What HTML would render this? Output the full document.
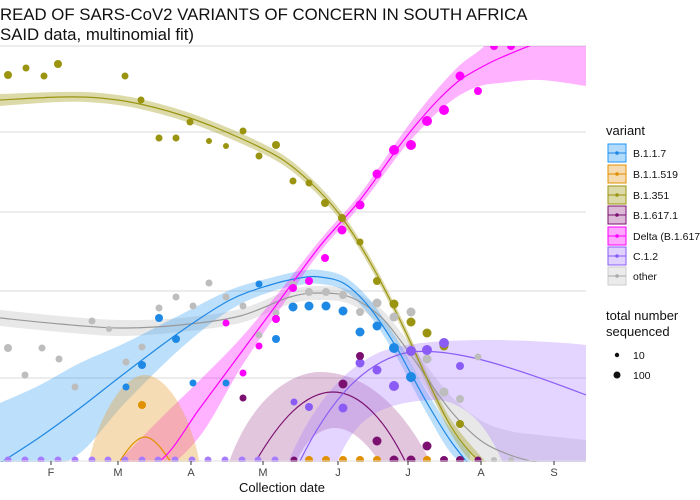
<!DOCTYPE html>
<html><head><meta charset="utf-8"><style>
html,body{margin:0;padding:0;background:#fff;width:700px;height:500px;overflow:hidden;}
svg{display:block;font-family:"Liberation Sans",sans-serif;}
</style></head><body>
<svg id="s" width="700" height="500" viewBox="0 0 700 500">
<rect width="700" height="500" fill="#fff"/>
<text x="0" y="20" font-size="16.8" fill="#111">READ OF SARS-CoV2 VARIANTS OF CONCERN IN SOUTH AFRICA</text>
<text x="0" y="40" font-size="16.8" fill="#111">SAID data, multinomial fit)</text>
<defs><clipPath id="c"><rect x="0" y="46" width="586" height="416"/></clipPath></defs>
<g stroke="#e0e0e0" stroke-width="1.2">
<line x1="0" y1="46" x2="586" y2="46"/><line x1="0" y1="132" x2="586" y2="132"/>
<line x1="0" y1="212" x2="586" y2="212"/><line x1="0" y1="291" x2="586" y2="291"/>
<line x1="0" y1="378" x2="586" y2="378"/>
</g>
<g clip-path="url(#c)">
<g id="bands"></g>
<path d="M88,465 C100,410 125,375 145,375 C165,375 190,410 200,465Z" fill="#e8a33a" fill-opacity="0.38"/>
<path d="M228,465 C250,400 290,372 320,372 C360,372 400,400 432,465 L382,465 C365,440 350,428 335,428 C320,428 305,440 295,465Z" fill="#8b1a7a" fill-opacity="0.25"/>
<path d="M287,465 C310,410 340,370 380,352 C410,342 440,340 500,340 C540,341 570,343 586,345 L586,468 L505,468 C490,430 470,405 440,400 C410,400 380,405 360,425 C350,435 342,450 336,465Z" fill="#a77bff" fill-opacity="0.32"/>
<g id="lines" fill="none" stroke-width="1.2">
<path d="M120,461 C130,445 138,437 145,437 C152,437 160,445 170,461" stroke="#e09000"/>
<path d="M256,461 C280,420 305,392 333,392 C360,392 385,420 405,461" stroke="#7b1070"/>
<path d="M300,461 C330,400 365,360 410,352 C450,348 500,362 586,395" stroke="#8a5cf5"/>
</g>
<g id="pts"></g>
</g>
<line x1="0" y1="461" x2="586" y2="461" stroke="#e0e0e0"/>
<g stroke="#333" stroke-width="1">
<line x1="51" y1="461" x2="51" y2="465"/><line x1="118" y1="461" x2="118" y2="465"/><line x1="191" y1="461" x2="191" y2="465"/><line x1="263" y1="461" x2="263" y2="465"/><line x1="338" y1="461" x2="338" y2="465"/><line x1="408" y1="461" x2="408" y2="465"/><line x1="481" y1="461" x2="481" y2="465"/><line x1="554" y1="461" x2="554" y2="465"/>
</g>
<g font-size="11" fill="#444" text-anchor="middle">
<text x="51" y="476">F</text><text x="118" y="476">M</text><text x="191" y="476">A</text><text x="263" y="476">M</text><text x="338" y="476">J</text><text x="408" y="476">J</text><text x="481" y="476">A</text><text x="554" y="476">S</text>
</g>
<text x="282" y="492" font-size="13" fill="#111" text-anchor="middle">Collection date</text>
<text x="606" y="135" font-size="13" fill="#111">variant</text>
<g font-size="10.5" fill="#111">
<rect x="608" y="144" width="18" height="18" fill="#2196f3" fill-opacity="0.35" stroke="#2196f3"/><line x1="608" y1="153" x2="626" y2="153" stroke="#1e88e5"/><circle cx="617" cy="153" r="1.8" fill="#1e88e5"/><text x="633" y="157">B.1.1.7</text>
<rect x="608" y="165" width="18" height="18" fill="#e8a33a" fill-opacity="0.4" stroke="#e09000"/><line x1="608" y1="174" x2="626" y2="174" stroke="#e09000"/><circle cx="617" cy="174" r="1.8" fill="#e09000"/><text x="633" y="178">B.1.1.519</text>
<rect x="608" y="186" width="18" height="18" fill="#a9a32a" fill-opacity="0.4" stroke="#9a9410"/><line x1="608" y1="195" x2="626" y2="195" stroke="#9a9410"/><circle cx="617" cy="195" r="1.8" fill="#9a9410"/><text x="633" y="199">B.1.351</text>
<rect x="608" y="206" width="18" height="18" fill="#8b1a7a" fill-opacity="0.3" stroke="#7b1070"/><line x1="608" y1="215" x2="626" y2="215" stroke="#7b1070"/><circle cx="617" cy="215" r="1.8" fill="#7b1070"/><text x="633" y="219">B.1.617.1</text>
<rect x="608" y="227" width="18" height="18" fill="#ff00ff" fill-opacity="0.35" stroke="#ff00ff"/><line x1="608" y1="236" x2="626" y2="236" stroke="#ff00ff"/><circle cx="617" cy="236" r="1.8" fill="#ff00ff"/><text x="633" y="240">Delta (B.1.617.2)</text>
<rect x="608" y="247" width="18" height="18" fill="#a77bff" fill-opacity="0.35" stroke="#8a5cf5"/><line x1="608" y1="256" x2="626" y2="256" stroke="#8a5cf5"/><circle cx="617" cy="256" r="1.8" fill="#8a5cf5"/><text x="633" y="260">C.1.2</text>
<rect x="608" y="267" width="18" height="18" fill="#ddd" fill-opacity="0.6" stroke="#ccc"/><line x1="608" y1="276" x2="626" y2="276" stroke="#aaa"/><circle cx="617" cy="276" r="1.8" fill="#aaa"/><text x="633" y="280">other</text>
</g>
<text x="606" y="320" font-size="13" fill="#111">total number</text>
<text x="606" y="336" font-size="13" fill="#111">sequenced</text>
<circle cx="617" cy="355" r="2.2" fill="#111"/><text x="633" y="359" font-size="10.5" fill="#111">10</text>
<circle cx="617" cy="375" r="3.5" fill="#111"/><text x="633" y="379" font-size="10.5" fill="#111">100</text>
</svg>
<script>
(function(){
var NS="http://www.w3.org/2000/svg";
function cl(v){return Math.max(20,Math.min(470,v));}
function sm(p){
  var d="M"+p[0][0]+","+p[0][1];
  for(var i=0;i<p.length-1;i++){
    var p0=p[Math.max(i-1,0)],p1=p[i],p2=p[i+1],p3=p[Math.min(i+2,p.length-1)];
    d+=" C"+(p1[0]+(p2[0]-p0[0])/6).toFixed(1)+","+cl(p1[1]+(p2[1]-p0[1])/6).toFixed(1)+" "+(p2[0]-(p3[0]-p1[0])/6).toFixed(1)+","+cl(p2[1]-(p3[1]-p1[1])/6).toFixed(1)+" "+p2[0]+","+p2[1];
  }
  return d;
}
function el(par,tag,at){var e=document.createElementNS(NS,tag);for(var k in at)e.setAttribute(k,at[k]);document.getElementById(par).appendChild(e);return e;}
var S=[
 {c:"#999",f:"#bdbdbd",o:0.35,p:[[0,318,8],[60,324,8],[120,328,8],[180,325,7],[240,316,7],[290,297,7],[320,293,7],[350,297,7],[380,316,8],[400,340,9],[420,368,11],[450,410,15],[480,440,20],[510,455,24],[540,463,28],[586,470,30]]},
 {c:"#1e88e5",f:"#2196f3",o:0.3,p:[[0,463,60],[40,437,52],[80,408,45],[125,373,30],[180,332,17],[230,300,10],[270,285,7],[300,278,7],[320,277,7],[345,284,7],[370,308,8],[395,345,9],[410,372,10],[430,408,11],[450,440,12],[470,466,13]]},
 {c:"#ff00ff",f:"#ff00ff",o:0.3,p:[[120,515,55],[161,460,42],[200,408,28],[240,354,15],[280,300,9],[320,246,6],[360,200,6],[400,145,8],[420,120,10],[440,98,12],[460,80,15],[480,68,18],[500,58,25],[540,42,38],[586,28,58]]},
 {c:"#9a9410",f:"#a9a32a",o:0.4,p:[[0,100,6],[60,97,5],[100,98,5],[140,104,5],[190,118,5],[240,138,5],[280,158,5],[310,182,5],[340,215,5],[370,262,5],[400,320,5],[430,385,6],[450,425,7],[470,452,8],[490,475,9]]}
];
S.forEach(function(s){
  var up=s.p.map(function(q){return [q[0],cl(q[1]-q[2])];});
  var lo=s.p.map(function(q){return [q[0],cl(q[1]+q[2])];}).reverse();
  var d=sm(up)+" L"+lo[0][0]+","+lo[0][1]+sm(lo).replace(/^M[^C]*/," ")+"Z";
  el("bands","path",{d:d,fill:s.f,"fill-opacity":s.o});
  el("lines","path",{d:sm(s.p.map(function(q){return [q[0],cl(q[1])];})),stroke:s.c});
});
var P={
"#9a9410":[[8,75,4],[26,68,3.5],[44,76,3.5],[58,64,4],[125,76,3.5],[141,100,3.5],[159,138,3.5],[176,138,3.5],[190,122,3.5],[209,141,3],[226,146,3],[243,131,3.5],[259,156,3.5],[276,145,4],[293,181,3.5],[309,183,3.5],[325,203,4],[342,218,4],[360,242,3.5],[377,281,4],[394,304,4.5],[411,322,4.5],[427,333,4.5],[444,346,4.5],[460,424,4]],
"#bdbdbd":[[8,348,4],[25,375,3.5],[42,348,3.5],[59,359,3.5],[75,387,3.5],[92,321,3.5],[109,329,3],[126,362,3.5],[142,347,3.5],[159,308,3.5],[176,297,3.5],[193,306,3.5],[209,283,3.5],[226,297,3.5],[243,306,3.5],[259,335,3.5],[276,313,3.5],[293,285,4],[309,292,4],[326,292,4],[343,295,4],[360,312,4],[377,303,4.5],[394,317,4.5],[411,312,4.5],[427,359,4.5],[444,392,4.5],[460,399,4],[478,357,3.5],[494,460,3],[511,460,3]],
"#1e88e5":[[126,387,3.5],[142,365,4],[159,318,4],[176,339,4],[193,383,3.5],[226,383,3.5],[259,284,3.5],[276,339,4],[293,307,4.5],[309,306,4.5],[326,306,4.5],[343,311,4.5],[360,332,4.5],[377,326,4.5],[394,348,5],[411,377,5]],
"#ff00ff":[[226,323,3.5],[243,373,3.5],[259,346,3.5],[276,319,4],[293,288,4],[309,281,4],[325,258,4],[342,230,4.5],[360,205,4.5],[377,174,4.5],[394,150,5],[411,145,5],[427,121,5],[444,110,5],[460,76,4.5],[478,91,4],[494,46,4],[511,46,4]],
"#8a5cf5":[[294,402,3.5],[309,407,4],[343,408,4.5],[360,363,4.5],[377,370,4.5],[394,386,5],[411,351,5],[427,350,5],[444,343,5],[460,366,4]],
"#7b1070":[[243,398,3.5],[343,384,4.5],[360,356,4],[377,441,4.5],[427,446,4.5],[294,460,3.5],[394,460,4.5],[411,460,4.5],[444,460,4],[460,460,4],[478,460,3.5]],
"#e09000":[[142,405,4],[309,460,4],[326,460,4],[343,460,4],[360,460,4],[377,460,4],[427,460,4]],
"#a77bff":[]
};
for(var x=8;x<=277;x+=16.7)P["#a77bff"].push([Math.round(x),460,3.5]);
["#9a9410","#bdbdbd","#1e88e5","#ff00ff","#8a5cf5","#a77bff","#7b1070","#e09000"].forEach(function(c){
  P[c].forEach(function(q){el("pts","circle",{cx:q[0],cy:q[1],r:q[2],fill:c});});
});
})();
</script>
</body></html>
